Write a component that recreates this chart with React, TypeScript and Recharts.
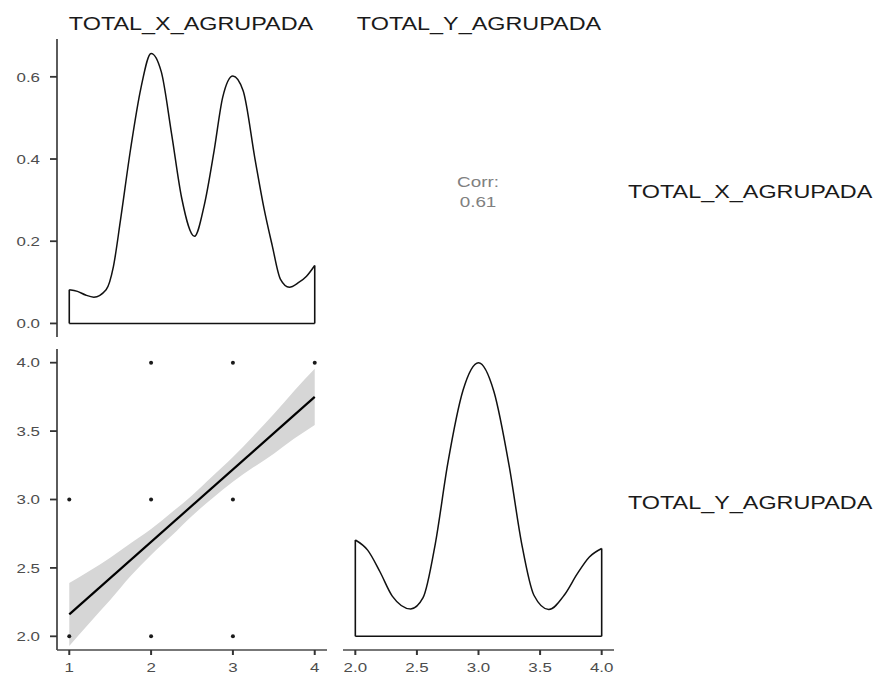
import React from "react";
import {
  ComposedChart,
  Line,
  Area,
  Scatter,
  XAxis,
  YAxis,
  ReferenceLine,
} from "recharts";

const W = 884;
const H = 676;
const SX = 1.3; // the reference text is stretched horizontally
const FONT = '"Liberation Sans", Arial, sans-serif';
const AXIS = "#4a4a4a";
const TICK_TEXT = "#4d4d4d";

const varNames = ["TOTAL_X_AGRUPADA", "TOTAL_Y_AGRUPADA"];
const corrValue = "0.61";

// density of TOTAL_X_AGRUPADA (top-left)
const xGrid = [1.0, 1.1, 1.2, 1.3, 1.45, 1.54, 1.625, 1.75, 1.875, 2.0, 2.125, 2.25, 2.375, 2.53, 2.65, 2.77, 2.875, 3.0, 3.125, 3.27, 3.38, 3.48, 3.58, 3.69, 3.8, 3.9, 4.0];
const xDensity = [0.082, 0.078, 0.069, 0.064, 0.082, 0.139, 0.25, 0.425, 0.572, 0.657, 0.612, 0.462, 0.304, 0.212, 0.288, 0.42, 0.55, 0.602, 0.566, 0.4, 0.28, 0.19, 0.108, 0.088, 0.099, 0.115, 0.141];

// density of TOTAL_Y_AGRUPADA (bottom-right)
const yGrid = [2.0, 2.1, 2.2, 2.3, 2.45, 2.55, 2.65, 2.75, 2.875, 3.0, 3.125, 3.25, 3.35, 3.45, 3.57, 3.7, 3.8, 3.9, 4.0];
const yDensity = [0.352, 0.315, 0.236, 0.147, 0.1, 0.141, 0.34, 0.63, 0.9, 1.0, 0.895, 0.62, 0.34, 0.15, 0.098, 0.153, 0.227, 0.29, 0.321];

// scatter + lm fit (bottom-left)
const pointX = [1, 1, 2, 2, 2, 3, 3, 3, 4];
const pointY = [2, 3, 2, 3, 4, 2, 3, 4, 4];
const fitX = [1, 4];
const fitY = [2.16, 3.75];
const bandX = [1, 1.25, 1.5, 1.75, 2, 2.25, 2.5, 2.75, 3, 3.25, 3.5, 3.75, 4];
const bandLo = [1.93, 2.1, 2.265, 2.44, 2.595, 2.735, 2.88, 3.01, 3.13, 3.235, 3.335, 3.445, 3.545];
const bandHi = [2.39, 2.48, 2.575, 2.68, 2.785, 2.905, 3.03, 3.17, 3.31, 3.465, 3.625, 3.795, 3.955];

const densTicks = [0, 0.2, 0.4, 0.6];
const xTicks = [1, 2, 3, 4];
const yTicks = [2, 2.5, 3, 3.5, 4];

const xDensData = xGrid.map((x, i) => ({ x, d: xDensity[i] }));
const yDensData = yGrid.map((x, i) => ({ x, d: yDensity[i] }));
const pointData = pointX.map((x, i) => ({ x, y: pointY[i] }));
const fitData = fitX.map((x, i) => ({ x, fit: fitY[i] }));
const bandData = bandX.map((x, i) => ({ x, band: [bandLo[i], bandHi[i]] }));

const YTick = (p: any, fmt: (v: number) => string) => (
  <text
    transform={`translate(${p.x},${p.y}) scale(${SX},1)`}
    textAnchor="end"
    dominantBaseline="central"
    fontSize={13}
    fill={TICK_TEXT}
    fontFamily={FONT}
  >
    {fmt(p.payload.value)}
  </text>
);

const XTick = (p: any, fmt: (v: number) => string) => (
  <text
    transform={`translate(${p.x},${p.y + 15}) scale(${SX},1)`}
    textAnchor="middle"
    fontSize={13}
    fill={TICK_TEXT}
    fontFamily={FONT}
  >
    {fmt(p.payload.value)}
  </text>
);

const one = (v: number) => v.toFixed(1);
const int = (v: number) => String(v);

const Dot = (p: any) => <circle cx={p.cx} cy={p.cy} r={2} fill="#1a1a1a" />;

const layer: React.CSSProperties = { position: "absolute", left: 0, top: 0 };

export default function App() {
  const xl = xGrid.length - 1;
  const yl = yGrid.length - 1;
  return (
    <div style={{ position: "absolute", left: 0, top: 0, width: W, height: H, background: "#fff" }}>
      {/* top-left: density of X */}
      <div style={layer}>
        <ComposedChart width={W} height={H} data={xDensData} margin={{ top: 39, right: 557, bottom: 339, left: 0 }}>
          <XAxis type="number" dataKey="x" domain={[0.85, 4.15]} hide />
          <YAxis
            type="number"
            domain={[-0.033, 0.692]}
            ticks={densTicks}
            width={57}
            tickSize={7}
            tickMargin={10}
            axisLine={{ stroke: AXIS, strokeWidth: 1.8 }}
            tickLine={{ stroke: "#333", strokeWidth: 1.8 }}
            tick={(p: any) => YTick(p, one)}
            allowDataOverflow
          />
          <ReferenceLine segment={[{ x: xGrid[0], y: 0 }, { x: xGrid[xl], y: 0 }]} stroke="#111" strokeWidth={1.4} />
          <ReferenceLine segment={[{ x: xGrid[0], y: 0 }, { x: xGrid[0], y: xDensity[0] }]} stroke="#111" strokeWidth={1.6} />
          <ReferenceLine segment={[{ x: xGrid[xl], y: 0 }, { x: xGrid[xl], y: xDensity[xl] }]} stroke="#111" strokeWidth={1.6} />
          <Line type="monotone" dataKey="d" stroke="#111" strokeWidth={1.5} dot={false} isAnimationActive={false} />
        </ComposedChart>
      </div>

      {/* bottom-left: scatter with lm fit */}
      <div style={layer}>
        <ComposedChart width={W} height={H} margin={{ top: 349, right: 557, bottom: 0, left: 0 }}>
          <XAxis
            type="number"
            dataKey="x"
            domain={[0.85, 4.15]}
            ticks={xTicks}
            height={26}
            tickSize={5}
            tickMargin={2}
            axisLine={{ stroke: AXIS, strokeWidth: 1.6 }}
            tickLine={{ stroke: "#333", strokeWidth: 2 }}
            tick={(p: any) => XTick(p, int)}
            allowDataOverflow
          />
          <YAxis
            type="number"
            domain={[1.9, 4.1]}
            ticks={yTicks}
            width={57}
            tickSize={7}
            tickMargin={10}
            axisLine={{ stroke: AXIS, strokeWidth: 1.8 }}
            tickLine={{ stroke: "#333", strokeWidth: 1.8 }}
            tick={(p: any) => YTick(p, one)}
            allowDataOverflow
          />
          <Area data={bandData} dataKey="band" type="monotone" stroke="none" fill="#d6d6d6" fillOpacity={1} isAnimationActive={false} />
          <Scatter data={pointData} dataKey="y" shape={Dot} isAnimationActive={false} />
          <Line data={fitData} dataKey="fit" type="linear" stroke="#000" strokeWidth={2.2} dot={false} isAnimationActive={false} />
        </ComposedChart>
      </div>

      {/* bottom-right: density of Y */}
      <div style={layer}>
        <ComposedChart width={W} height={H} data={yDensData} margin={{ top: 349, right: 270, bottom: 0, left: 343 }}>
          <XAxis
            type="number"
            dataKey="x"
            domain={[1.9, 4.1]}
            ticks={yTicks}
            height={26}
            tickSize={5}
            tickMargin={2}
            axisLine={{ stroke: AXIS, strokeWidth: 1.6 }}
            tickLine={{ stroke: "#333", strokeWidth: 2 }}
            tick={(p: any) => XTick(p, one)}
            allowDataOverflow
          />
          <YAxis type="number" domain={[-0.05, 1.05]} hide allowDataOverflow />
          <ReferenceLine segment={[{ x: yGrid[0], y: 0 }, { x: yGrid[yl], y: 0 }]} stroke="#111" strokeWidth={1.4} />
          <ReferenceLine segment={[{ x: yGrid[0], y: 0 }, { x: yGrid[0], y: yDensity[0] }]} stroke="#111" strokeWidth={1.6} />
          <ReferenceLine segment={[{ x: yGrid[yl], y: 0 }, { x: yGrid[yl], y: yDensity[yl] }]} stroke="#111" strokeWidth={1.6} />
          <Line type="monotone" dataKey="d" stroke="#111" strokeWidth={1.5} dot={false} isAnimationActive={false} />
        </ComposedChart>
      </div>

      {/* strip labels and correlation text */}
      <svg width={W} height={H} style={{ ...layer, pointerEvents: "none" }} fontFamily={FONT}>
        <text transform={`translate(191,30) scale(${SX},1)`} textAnchor="middle" fontSize={18} fill="#1a1a1a">
          {varNames[0]}
        </text>
        <text transform={`translate(479,30) scale(${SX},1)`} textAnchor="middle" fontSize={18} fill="#1a1a1a">
          {varNames[1]}
        </text>
        <text transform={`translate(628,198) scale(${SX},1)`} fontSize={18} fill="#1a1a1a">
          {varNames[0]}
        </text>
        <text transform={`translate(628,509) scale(${SX},1)`} fontSize={18} fill="#1a1a1a">
          {varNames[1]}
        </text>
        <text transform={`translate(478,187) scale(${SX},1)`} textAnchor="middle" fontSize={14.5} fill="#808080">
          Corr:
        </text>
        <text transform={`translate(478,207) scale(${SX},1)`} textAnchor="middle" fontSize={14.5} fill="#808080">
          {corrValue}
        </text>
      </svg>
    </div>
  );
}
